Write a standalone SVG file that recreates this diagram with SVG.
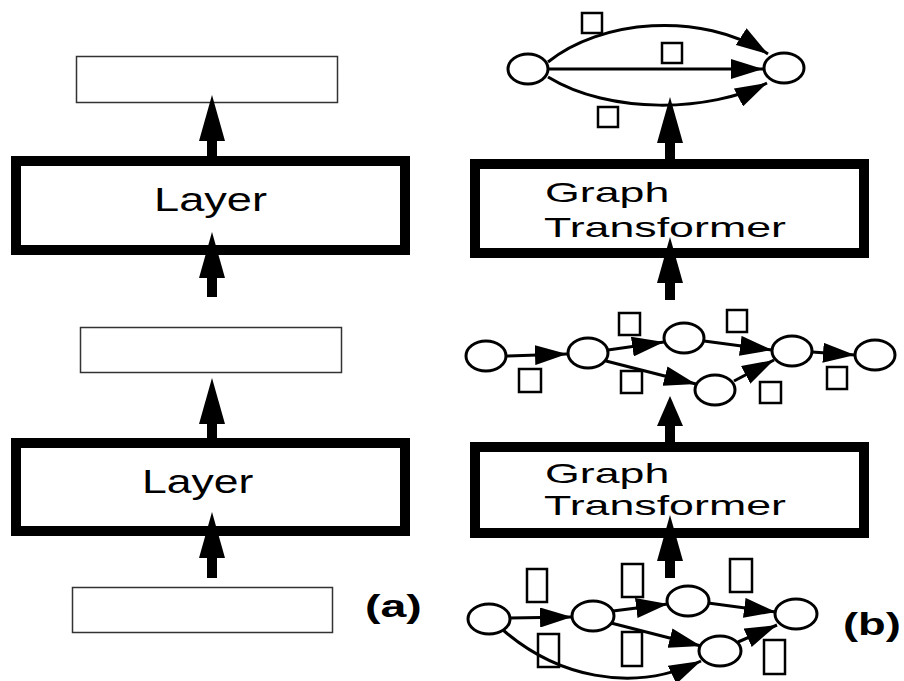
<svg xmlns="http://www.w3.org/2000/svg" width="904" height="681" viewBox="0 0 904 681">
<style>
.thin{fill:#fff;stroke:#333;stroke-width:1.5}
.thick{fill:#fff;stroke:#000;stroke-width:10}
.node{fill:#fff;stroke:#000;stroke-width:3}
.lbl{fill:#fff;stroke:#000;stroke-width:2.5}
.edge{fill:none;stroke:#000;stroke-width:3;marker-end:url(#ah)}
.big{fill:none;stroke:#000;stroke-width:10;marker-end:url(#bh)}
.big2{fill:none;stroke:#000;stroke-width:10;marker-end:url(#bh2)}
.t{font-family:"Liberation Sans",Arial,sans-serif;fill:#000}
.tb{font-family:"Liberation Sans",Arial,sans-serif;font-weight:bold;fill:#000}
</style>
<defs>
<marker id="ah" markerUnits="userSpaceOnUse" markerWidth="33" markerHeight="20" refX="32" refY="10" orient="auto"><path d="M0,0 L32,10 L0,20 z" fill="#000"/></marker>
<marker id="bh" markerUnits="userSpaceOnUse" markerWidth="47" markerHeight="26" refX="4" refY="13" orient="auto"><path d="M0,0 L46,13 L0,26 z" fill="#000"/></marker>
<marker id="bh2" markerUnits="userSpaceOnUse" markerWidth="31" markerHeight="26" refX="4" refY="13" orient="auto"><path d="M0,0 L30,13 L0,26 z" fill="#000"/></marker>
</defs>
<rect width="904" height="681" fill="#fff"/>

<!-- (a) column -->
<g id="a-out"><rect class="thin" x="76.5" y="56.5" width="261" height="46"/></g>
<g id="a-layer2"><rect class="thick" x="16" y="161" width="389" height="89"/><text class="t" font-size="33" transform="translate(154,211) scale(1.37,1)">Layer</text></g>
<g id="a-mid"><rect class="thin" x="80.5" y="327.5" width="261" height="45"/></g>
<g id="a-layer1"><rect class="thick" x="16" y="443" width="389" height="88"/><text class="t" font-size="33" transform="translate(142,493) scale(1.35,1)">Layer</text></g>
<g id="a-in"><rect class="thin" x="72.5" y="587.5" width="260" height="45"/></g>
<g id="label-a"><text class="tb" font-size="31" transform="translate(365,617) scale(1.5,1)">(a)</text></g>

<!-- (b) column -->
<g id="gt2"><rect class="thick" x="475" y="164" width="389" height="89"/><text class="t" font-size="28.5" transform="translate(545,202) scale(1.57,1)">Graph</text><text class="t" font-size="28.5" transform="translate(544,237) scale(1.57,1)">Transformer</text></g>
<g id="gt1"><rect class="thick" x="475" y="447" width="389" height="86"/><text class="t" font-size="28.5" transform="translate(545,483) scale(1.57,1)">Graph</text><text class="t" font-size="28.5" transform="translate(544,515) scale(1.57,1)">Transformer</text></g>
<g id="label-b"><text class="tb" font-size="31" transform="translate(843,635) scale(1.46,1)">(b)</text></g>

<!-- top graph -->
<g id="top-n1"><ellipse class="node" cx="528" cy="69" rx="20" ry="15"/></g>
<g id="top-n2"><ellipse class="node" cx="784" cy="68" rx="20" ry="15"/></g>
<g id="top-l1"><rect class="lbl" x="582" y="13" width="20" height="20"/></g>
<g id="top-l2"><rect class="lbl" x="662" y="43" width="20" height="20"/></g>
<g id="top-l3"><rect class="lbl" x="598" y="107" width="20" height="20"/></g>

<!-- middle graph -->
<g id="mid-n1"><ellipse class="node" cx="486" cy="356" rx="20" ry="15"/></g>
<g id="mid-n2"><ellipse class="node" cx="588" cy="353" rx="20" ry="15"/></g>
<g id="mid-n3"><ellipse class="node" cx="684" cy="338" rx="20" ry="15"/></g>
<g id="mid-n4"><ellipse class="node" cx="792" cy="351" rx="20" ry="15"/></g>
<g id="mid-n5"><ellipse class="node" cx="875" cy="355" rx="20" ry="15"/></g>
<g id="mid-n6"><ellipse class="node" cx="715" cy="390" rx="20" ry="15"/></g>
<g id="mid-l1"><rect class="lbl" x="519" y="369" width="22" height="23"/></g>
<g id="mid-l2"><rect class="lbl" x="619" y="313" width="21" height="22"/></g>
<g id="mid-l3"><rect class="lbl" x="621" y="371" width="21" height="22"/></g>
<g id="mid-l4"><rect class="lbl" x="727" y="310" width="20" height="22"/></g>
<g id="mid-l5"><rect class="lbl" x="760" y="382" width="21" height="21"/></g>
<g id="mid-l6"><rect class="lbl" x="827" y="367" width="20" height="22"/></g>

<!-- bottom graph -->
<g id="bot-n1"><ellipse class="node" cx="489" cy="619" rx="21" ry="15"/></g>
<g id="bot-n2"><ellipse class="node" cx="593" cy="616" rx="21" ry="15"/></g>
<g id="bot-n3"><ellipse class="node" cx="688" cy="601" rx="21" ry="15"/></g>
<g id="bot-n4"><ellipse class="node" cx="796" cy="614" rx="21" ry="15"/></g>
<g id="bot-n5"><ellipse class="node" cx="720" cy="651" rx="21" ry="15"/></g>
<g id="bot-l1"><rect class="lbl" x="527" y="569" width="20" height="33"/></g>
<g id="bot-l2"><rect class="lbl" x="622" y="564" width="21" height="33"/></g>
<g id="bot-l3"><rect class="lbl" x="730" y="559" width="22" height="33"/></g>
<g id="bot-l4"><rect class="lbl" x="538" y="634" width="21" height="33"/></g>
<g id="bot-l5"><rect class="lbl" x="622" y="632" width="20" height="34"/></g>
<g id="bot-l6"><rect class="lbl" x="764" y="640" width="21" height="34"/></g>

<g id="connectors">
<!-- (a) big arrows -->
<path class="big" d="M212,156 V137"/>
<path class="big" d="M212,297 V274"/>
<path class="big" d="M212,438 V420"/>
<path class="big" d="M212,578 V554"/>
<!-- (b) big arrows -->
<path class="big" d="M670,159 V139"/>
<path class="big" d="M670,300 V279"/>
<path class="big2" d="M670,442 V422"/>
<path class="big" d="M670,578 V557"/>
<!-- top graph edges -->
<path class="edge" d="M549,69 L763,69"/>
<path class="edge" d="M548,62 C600,20 700,10 768,54"/>
<path class="edge" d="M548,77 C610,115 710,112 767,83"/>
<!-- middle graph edges -->
<path class="edge" d="M507,356 L567,354"/>
<path class="edge" d="M608,350 L664,342"/>
<path class="edge" d="M704,341 L772,350"/>
<path class="edge" d="M812,352 L855,355"/>
<path class="edge" d="M606,361 L696,384"/>
<path class="edge" d="M734,381 L774,360"/>
<!-- bottom graph edges -->
<path class="edge" d="M510,618 L572,617"/>
<path class="edge" d="M613,611 L668,604"/>
<path class="edge" d="M708,603 L776,612"/>
<path class="edge" d="M611,623 L701,646"/>
<path class="edge" d="M738,642 L777,625"/>
<path class="edge" d="M503,630 C555,675 630,695 701,661"/>
</g>
</svg>
